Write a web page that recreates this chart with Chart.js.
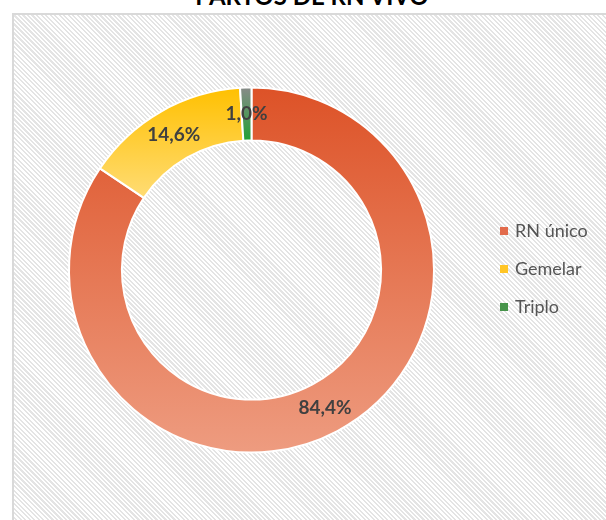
<!DOCTYPE html>
<html>
<head>
<meta charset="utf-8">
<script src="https://cdn.jsdelivr.net/npm/chart.js@4"></script>
<style>
  html, body { margin: 0; padding: 0; width: 606px; height: 520px; overflow: hidden; background: #fff; }
  #title {
    position: absolute; left: 0; width: 624px; top: -19px; text-align: center;
    font-family: Lato, sans-serif; font-weight: bold; font-size: 24px; color: #000;
  }
  #box {
    position: absolute; left: 12px; top: 13px; width: 640px; height: 560px;
    border: 2px solid #d9d9d9;
    background: repeating-linear-gradient(45deg, #ffffff 0px, #ffffff 1.6px, #e4e4e4 1.6px, #e4e4e4 3.2px);
  }
  #wrap { position: absolute; left: 0; top: 0; width: 606px; height: 520px; }
</style>
</head>
<body>
<div id="title">PARTOS DE RN VIVO</div>
<div id="box"></div>
<div id="wrap"><canvas id="myChart" width="606" height="520"></canvas></div>
<script>
// DATA
const labels = ["RN único", "Gemelar", "Triplo"];
const values = [84.4, 14.6, 1.0];
const valueText = ["84,4%", "14,6%", "1,0%"];

// gradient colours per slice (top -> bottom)
const topColors = ["#dd5227", "#ffc000", "#8a8a8a"];
const bottomColors = ["#ee9c80", "#ffdc74", "#22a036"];
const legendColors = ["#e26b4c", "#ffc526", "#46934a"];

const cutout = 0.71;

// vertical extent of a slice, to stretch its gradient over it
function sliceGradient(context) {
  const chart = context.chart;
  const area = chart.chartArea;
  const i = context.dataIndex;
  if (!area || i === undefined) return topColors[i || 0];
  const total = values.reduce((a, b) => a + b, 0);
  let before = 0;
  for (let k = 0; k < i; k++) before += values[k];
  const start = -Math.PI / 2 + 2 * Math.PI * before / total;
  const end = start + 2 * Math.PI * values[i] / total;
  const cy = (area.top + area.bottom) / 2;
  const R = Math.min(area.right - area.left, area.bottom - area.top) / 2;
  const r = R * cutout;
  let ys = [];
  [start, end].forEach(a => {
    ys.push(cy + R * Math.sin(a));
    ys.push(cy + r * Math.sin(a));
  });
  if (start <= -Math.PI / 2 + 1e-6 || end >= 3 * Math.PI / 2) ys.push(cy - R);
  if (start < Math.PI / 2 && end > Math.PI / 2) ys.push(cy + R);
  const g = chart.ctx.createLinearGradient(0, Math.min(...ys), 0, Math.max(...ys));
  g.addColorStop(0, topColors[i]);
  g.addColorStop(1, bottomColors[i]);
  return g;
}

// LABELS ON SLICES
const sliceLabels = {
  id: "sliceLabels",
  afterDatasetsDraw(chart) {
    const ctx = chart.ctx;
    const meta = chart.getDatasetMeta(0);
    ctx.save();
    ctx.font = "bold 19px Lato, sans-serif";
    ctx.fillStyle = "#404040";
    ctx.textAlign = "center";
    ctx.textBaseline = "middle";
    meta.data.forEach((arc, i) => {
      const p = arc.tooltipPosition();
      ctx.fillText(valueText[i], p.x, p.y);
    });
    ctx.restore();
  }
};

// LEGEND
const sideLegend = {
  id: "sideLegend",
  afterDraw(chart) {
    const ctx = chart.ctx;
    ctx.save();
    ctx.font = "18px Lato, sans-serif";
    ctx.textBaseline = "middle";
    labels.forEach((name, i) => {
      const y = 231 + i * 38;
      ctx.fillStyle = legendColors[i];
      ctx.fillRect(500, y - 4, 8, 8);
      ctx.fillStyle = "#555555";
      ctx.fillText(name, 515, y);
    });
    ctx.restore();
  }
};

const chart = new Chart(document.getElementById("myChart"), {
  type: "doughnut",
  data: {
    labels: labels,
    datasets: [{
      data: values,
      backgroundColor: sliceGradient,
      borderColor: "#ffffff",
      borderWidth: 2
    }]
  },
  options: {
    responsive: false,
    animation: false,
    cutout: (cutout * 100) + "%",
    layout: { padding: { left: 68, right: 171, top: 86, bottom: 66 } },
    plugins: {
      legend: { display: false },
      tooltip: { enabled: false }
    }
  },
  plugins: [sliceLabels, sideLegend]
});
</script>
</body>
</html>
